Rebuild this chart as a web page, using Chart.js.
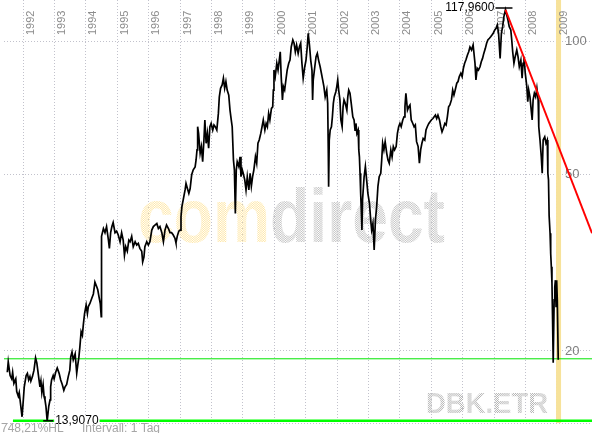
<!DOCTYPE html>
<html>
<head>
<meta charset="utf-8">
<script src="https://cdn.jsdelivr.net/npm/chart.js@4.4.0/dist/chart.umd.min.js"></script>
<style>
html, body { margin: 0; padding: 0; background: #fff; }
#wrap { width: 592px; height: 433px; position: relative; }
</style>
</head>
<body>
<div id="wrap"><canvas id="chart" width="592" height="433"></canvas></div>
<script>
// DBK.ETR daily close (decimal year, price in EUR)
var years = [
  1991.50, 1991.53, 1991.59, 1991.64, 1991.67, 1991.71, 1991.77, 1991.80, 1991.85, 1991.88, 1991.93, 1991.97,
  1992.01, 1992.04, 1992.10, 1992.14, 1992.18, 1992.22, 1992.25, 1992.30, 1992.35, 1992.40, 1992.44, 1992.47,
  1992.51, 1992.54, 1992.57, 1992.60, 1992.64, 1992.67, 1992.70, 1992.73, 1992.77, 1992.82, 1992.86, 1992.88,
  1992.91, 1992.96, 1992.99, 1993.04, 1993.09, 1993.15, 1993.20, 1993.25, 1993.30, 1993.34, 1993.39, 1993.44,
  1993.49, 1993.52, 1993.56, 1993.60, 1993.66, 1993.71, 1993.74, 1993.78, 1993.81, 1993.85, 1993.89, 1993.92,
  1993.96, 1994.01, 1994.05, 1994.08, 1994.13, 1994.19, 1994.24, 1994.29, 1994.35, 1994.38, 1994.42, 1994.46,
  1994.49, 1994.50, 1994.56, 1994.61, 1994.66, 1994.72, 1994.75, 1994.79, 1994.83, 1994.87, 1994.93, 1994.98,
  1995.03, 1995.09, 1995.14, 1995.19, 1995.23, 1995.27, 1995.32, 1995.37, 1995.41, 1995.46, 1995.51, 1995.57,
  1995.62, 1995.67, 1995.72, 1995.78, 1995.81, 1995.85, 1995.88, 1995.94, 1995.99, 1996.04, 1996.10, 1996.15,
  1996.20, 1996.26, 1996.31, 1996.36, 1996.42, 1996.47, 1996.52, 1996.57, 1996.63, 1996.68, 1996.73, 1996.78,
  1996.84, 1996.87, 1996.91, 1996.96, 1997.00, 1997.03, 1997.06, 1997.10, 1997.16, 1997.19, 1997.23, 1997.28,
  1997.32, 1997.37, 1997.42, 1997.48, 1997.51, 1997.54, 1997.56, 1997.59, 1997.64, 1997.68, 1997.72, 1997.76,
  1997.79, 1997.83, 1997.87, 1997.91, 1997.95, 1997.99, 1998.04, 1998.08, 1998.12, 1998.17, 1998.22, 1998.25,
  1998.29, 1998.34, 1998.38, 1998.42, 1998.46, 1998.50, 1998.55, 1998.59, 1998.63, 1998.66, 1998.70, 1998.73,
  1998.76, 1998.79, 1998.82, 1998.87, 1998.91, 1998.94, 1998.98, 1999.01, 1999.06, 1999.10, 1999.14, 1999.19,
  1999.23, 1999.27, 1999.31, 1999.35, 1999.40, 1999.44, 1999.48, 1999.52, 1999.57, 1999.61, 1999.65, 1999.70,
  1999.74, 1999.78, 1999.82, 1999.86, 1999.91, 1999.95, 1999.97, 1999.99, 2000.03, 2000.08, 2000.12, 2000.16,
  2000.19, 2000.22, 2000.26, 2000.29, 2000.33, 2000.37, 2000.41, 2000.46, 2000.50, 2000.54, 2000.59, 2000.63,
  2000.67, 2000.71, 2000.76, 2000.80, 2000.84, 2000.88, 2000.92, 2000.97, 2001.01, 2001.05, 2001.08, 2001.12,
  2001.16, 2001.20, 2001.22, 2001.24, 2001.29, 2001.33, 2001.37, 2001.41, 2001.46, 2001.50, 2001.54, 2001.58,
  2001.62, 2001.67, 2001.70, 2001.72, 2001.73, 2001.75, 2001.78, 2001.82, 2001.85, 2001.88, 2001.91, 2001.96,
  2001.99, 2002.02, 2002.05, 2002.09, 2002.12, 2002.16, 2002.19, 2002.22, 2002.26, 2002.31, 2002.34, 2002.37,
  2002.41, 2002.45, 2002.50, 2002.54, 2002.57, 2002.60, 2002.63, 2002.67, 2002.69, 2002.71, 2002.73, 2002.75,
  2002.77, 2002.79, 2002.81, 2002.86, 2002.90, 2002.94, 2002.98, 2003.03, 2003.07, 2003.10, 2003.14, 2003.18,
  2003.22, 2003.26, 2003.30, 2003.34, 2003.39, 2003.42, 2003.45, 2003.49, 2003.53, 2003.58, 2003.62, 2003.66,
  2003.71, 2003.75, 2003.79, 2003.83, 2003.88, 2003.92, 2003.96, 2004.00, 2004.04, 2004.09, 2004.13, 2004.16,
  2004.19, 2004.24, 2004.28, 2004.32, 2004.36, 2004.41, 2004.45, 2004.49, 2004.53, 2004.58, 2004.62, 2004.66,
  2004.70, 2004.74, 2004.79, 2004.83, 2004.87, 2004.92, 2004.96, 2005.00, 2005.05, 2005.09, 2005.13, 2005.17,
  2005.21, 2005.26, 2005.30, 2005.34, 2005.38, 2005.43, 2005.47, 2005.51, 2005.55, 2005.59, 2005.64, 2005.68,
  2005.72, 2005.76, 2005.81, 2005.85, 2005.89, 2005.94, 2005.98, 2006.02, 2006.06, 2006.10, 2006.15, 2006.19,
  2006.23, 2006.28, 2006.33, 2006.39, 2006.42, 2006.46, 2006.50, 2006.55, 2006.59, 2006.63, 2006.67, 2006.72,
  2006.76, 2006.80, 2006.85, 2006.89, 2006.93, 2006.97, 2007.02, 2007.06, 2007.10, 2007.14, 2007.19, 2007.23,
  2007.27, 2007.31, 2007.36, 2007.40, 2007.44, 2007.48, 2007.53, 2007.56, 2007.59, 2007.63, 2007.67, 2007.72,
  2007.76, 2007.80, 2007.85, 2007.89, 2007.92, 2007.95, 2007.99, 2008.04, 2008.07, 2008.10, 2008.14, 2008.17,
  2008.21, 2008.24, 2008.28, 2008.32, 2008.36, 2008.40, 2008.42, 2008.46, 2008.50, 2008.53, 2008.56, 2008.61,
  2008.65, 2008.69, 2008.71, 2008.73, 2008.75, 2008.78, 2008.80, 2008.82, 2008.84, 2008.86, 2008.88, 2008.91,
  2008.93, 2008.95, 2008.97, 2008.99, 2009.01, 2009.04
];
var prices = [
  17.9, 18.9, 17.6, 17.3, 17.9, 16.9, 17.3, 16.2, 15.8, 16.1, 15.0, 14.2,
  15.5, 16.6, 17.6, 17.8, 17.2, 17.5, 17.1, 17.5, 18.1, 19.3, 18.8, 18.1,
  17.2, 16.6, 17.1, 16.1, 16.8, 15.8, 15.5, 15.0, 13.907, 15.0, 15.5, 16.6,
  17.2, 17.6, 17.3, 17.9, 18.3, 17.8, 17.2, 16.8, 16.3, 16.6, 16.8, 17.5,
  18.1, 19.4, 19.9, 19.1, 19.7, 17.8, 18.5, 19.4, 20.4, 22.1, 21.7, 22.9,
  24.3, 25.4, 24.3, 25.2, 25.6, 26.3, 26.9, 28.6, 27.9, 27.5, 26.5, 25.6,
  23.9, 36.3, 37.8, 37.0, 38.2, 35.6, 34.1, 37.0, 38.2, 39.0, 37.0, 37.3,
  36.6, 35.3, 37.0, 35.6, 32.9, 34.4, 33.6, 35.6, 35.3, 36.3, 34.4, 35.3,
  34.7, 35.0, 34.1, 33.6, 31.8, 32.6, 34.4, 35.3, 34.7, 35.3, 37.5, 38.2,
  38.5, 38.8, 37.8, 38.2, 37.0, 35.3, 37.5, 38.5, 37.8, 37.0, 37.0, 36.6,
  35.9, 35.1, 36.3, 37.3, 37.5, 40.2, 42.4, 43.9, 46.2, 47.8, 46.7, 45.4,
  46.5, 50.0, 51.3, 52.1, 54.0, 56.9, 64.2, 62.0, 55.9, 57.9, 53.5, 59.9,
  66.5, 58.9, 62.0, 57.4, 64.2, 65.3, 63.1, 64.8, 64.2, 63.1, 68.8, 75.0,
  78.4, 79.8, 82.6, 78.4, 81.2, 77.7, 75.7, 70.0, 66.5, 64.2, 54.0, 51.3,
  40.9, 51.3, 53.5, 52.2, 54.9, 49.5, 51.3, 50.4, 48.7, 46.2, 49.5, 46.2,
  50.4, 47.1, 49.5, 51.3, 54.9, 53.1, 58.9, 59.9, 62.0, 64.2, 66.5, 63.1,
  65.3, 64.2, 68.8, 66.5, 70.6, 71.2, 77.7, 86.2, 83.3, 89.3, 86.2, 90.8,
  94.8, 83.3, 73.8, 79.1, 77.7, 81.9, 86.2, 89.3, 90.8, 97.3, 100.8, 99.1,
  94.8, 98.2, 94.0, 97.3, 99.1, 89.3, 82.6, 87.7, 90.8, 97.3, 104.4, 98.2,
  90.8, 86.2, 73.8, 81.9, 87.7, 92.4, 94.0, 90.8, 87.7, 84.8, 81.9, 79.1,
  75.0, 77.7, 72.5, 55.9, 47.0, 59.9, 63.1, 64.2, 67.6, 72.5, 75.0, 77.0,
  79.1, 81.9, 77.7, 73.8, 66.5, 64.2, 71.2, 73.8, 72.5, 70.0, 75.0, 77.7,
  76.4, 72.5, 67.6, 66.5, 63.1, 65.3, 62.0, 63.1, 56.9, 54.9, 50.4, 45.4,
  41.6, 37.5, 43.9, 49.5, 52.2, 48.7, 45.4, 43.1, 39.5, 37.5, 38.8, 33.8,
  39.5, 42.4, 47.1, 49.5, 50.4, 54.0, 58.9, 56.9, 59.4, 55.9, 54.0, 53.1,
  56.9, 54.9, 57.9, 56.9, 57.9, 62.0, 64.2, 65.3, 64.2, 66.5, 67.6, 71.2,
  76.4, 70.0, 71.2, 71.9, 66.5, 65.3, 64.2, 64.8, 59.4, 57.9, 53.1, 56.9,
  58.9, 60.4, 59.9, 63.1, 64.2, 65.3, 65.9, 66.5, 67.0, 67.6, 68.2, 67.0,
  68.2, 66.5, 64.2, 62.5, 63.6, 65.3, 64.8, 67.6, 71.2, 71.9, 73.8, 77.7,
  75.7, 77.7, 80.5, 81.2, 83.3, 84.8, 83.3, 87.0, 89.3, 90.8, 93.2, 94.8,
  97.2, 95.7, 98.2, 89.3, 81.9, 87.0, 86.2, 87.7, 90.0, 91.6, 94.0, 96.5,
  99.1, 100.8, 101.7, 102.5, 103.4, 104.4, 106.2, 107.1, 109.0, 104.4, 91.6, 104.4,
  108.0, 113.8, 117.96, 114.8, 111.8, 108.0, 106.2, 100.8, 94.8, 89.3, 92.4, 95.7,
  92.4, 87.7, 90.8, 82.6, 89.3, 92.4, 84.8, 79.1, 73.1, 77.7, 75.0, 71.2,
  66.5, 73.8, 76.4, 75.0, 78.4, 73.8, 64.2, 59.9, 54.9, 50.4, 59.9, 60.9,
  58.9, 59.9, 50.4, 48.7, 40.4, 36.9, 33.2, 31.0, 28.5, 23.5, 18.8, 26.1,
  27.9, 28.9, 25.2, 28.9, 26.1, 19.1
];
var yearTicks = [1992, 1993, 1994, 1995, 1996, 1997, 1998, 1999, 2000,
                 2001, 2002, 2003, 2004, 2005, 2006, 2007, 2008, 2009];
var priceTicks = [20, 50, 100];
var trendYears = [2007.36, 2010.115];
var trendPrices = [117.96, 36.9];
var highYear = 2007.36, highPrice = 117.96, highLabel = '117,9600';
var lowYear = 1992.77, lowPrice = 13.907, lowLabel = '13,9070';
var lowLineStart = 1991.68;
var lastPrice = 19.2;
var bandYears = [2008.97, 2009.13];
var xMin = 1991.395, xMax = 2010.115;
var yMin = 13.75, yMax = 124.1;

function dotPattern(ctx, color) {
    var c = document.createElement('canvas');
    c.width = 2; c.height = 2;
    var g = c.getContext('2d');
    g.fillStyle = color;
    g.fillRect(0, 0, 1, 1);
    g.fillRect(1, 1, 1, 1);
    return ctx.createPattern(c, 'repeat');
}

function fitText(ctx, text, x, y, width) {
    var w = ctx.measureText(text).width;
    ctx.save();
    ctx.translate(x, y);
    ctx.scale(width / w, 1);
    ctx.fillText(text, 0, 0);
    ctx.restore();
}

var decorations = {
    id: 'decorations',
    beforeDatasetsDraw: function(chart) {
        var ctx = chart.ctx, xs = chart.scales.x, ys = chart.scales.y, area = chart.chartArea;
        ctx.save();
        // 2009 marker band
        var b0 = xs.getPixelForValue(bandYears[0]), b1 = xs.getPixelForValue(bandYears[1]);
        ctx.fillStyle = '#f7e29a';
        ctx.fillRect(b0, area.top, b1 - b0, area.bottom - area.top);

        // watermarks
        ctx.textBaseline = 'alphabetic';
        ctx.textAlign = 'left';
        ctx.font = 'bold 76px "Liberation Sans", Arial, sans-serif';
        var wCom = ctx.measureText('com').width, wAll = ctx.measureText('comdirect').width;
        var k = 307 / wAll;
        ctx.save();
        ctx.translate(138, 242);
        ctx.scale(k, 1);
        ctx.fillStyle = dotPattern(ctx, '#ffe7a6');
        ctx.fillText('com', 0, 0);
        ctx.fillStyle = dotPattern(ctx, '#c4c4c4');
        ctx.fillText('direct', wCom, 0);
        ctx.restore();
        ctx.font = 'bold 29px "Liberation Sans", Arial, sans-serif';
        ctx.fillStyle = dotPattern(ctx, '#b4b4b4');
        fitText(ctx, 'DBK.ETR', 426, 413, 122);

        // year labels
        ctx.fillStyle = '#8c8c8c';
        ctx.font = '11px "Liberation Sans", Arial, sans-serif';
        yearTicks.forEach(function(yr) {
            var px = xs.getPixelForValue(yr);
            ctx.save();
            ctx.translate(px + 10.5, 35);
            ctx.rotate(-Math.PI / 2);
            ctx.fillText(String(yr), 0, 0);
            ctx.restore();
        });

        // price labels
        ctx.font = '13px "Liberation Sans", Arial, sans-serif';
        ctx.textBaseline = 'middle';
        ctx.fillStyle = '#808080';
        priceTicks.forEach(function(p) {
            ctx.fillText(String(p), 565, ys.getPixelForValue(p));
        });
        ctx.restore();
    },
    afterDatasetsDraw: function(chart) {
        var ctx = chart.ctx, xs = chart.scales.x, ys = chart.scales.y;
        ctx.save();
        ctx.strokeStyle = '#000';
        ctx.lineWidth = 1.5;
        ctx.fillStyle = '#000';
        ctx.font = '12px "Liberation Sans", Arial, sans-serif';
        ctx.textBaseline = 'middle';

        // high marker
        var hx = xs.getPixelForValue(highYear), hy = Math.round(ys.getPixelForValue(highPrice)) - 2;
        ctx.beginPath();
        ctx.moveTo(hx - 10, hy); ctx.lineTo(hx + 7, hy);
        ctx.stroke();
        ctx.textAlign = 'right';
        ctx.fillText(highLabel, hx - 11, hy);

        // low marker
        var lx = xs.getPixelForValue(lowYear), ly = ys.getPixelForValue(lowPrice);
        ctx.textAlign = 'left';
        var tw = ctx.measureText(lowLabel).width;
        ctx.fillStyle = '#fff';
        ctx.fillRect(lx + 7, ly - 5, tw + 2, 10);
        ctx.beginPath();
        ctx.moveTo(lx - 4, ly); ctx.lineTo(lx + 6, ly);
        ctx.stroke();
        ctx.fillStyle = '#000';
        ctx.fillText(lowLabel, lx + 8, ly);

        // footer
        ctx.fillStyle = '#a6a6a6';
        ctx.textBaseline = 'alphabetic';
        ctx.font = '12px "Liberation Sans", Arial, sans-serif';
        ctx.fillText('748,21%HL', 1, 432);
        ctx.fillText('Intervall: 1 Tag', 82, 432);
        ctx.restore();
    }
};

var gridColor = '#c2c2cc';

new Chart(document.getElementById('chart'), {
    type: 'line',
    data: {
        datasets: [{
            data: trendYears.map(function(y, i) { return {x: y, y: trendPrices[i]}; }),
            borderColor: '#ff0000',
            borderWidth: 2,
            pointRadius: 0
        }, {
            data: years.map(function(y, i) { return {x: y, y: prices[i]}; }),
            borderColor: '#000000',
            borderWidth: 1.7,
            pointRadius: 0,
            tension: 0
        }, {
            data: [{x: lowLineStart, y: lowPrice}, {x: xMax, y: lowPrice}],
            borderColor: '#00ff00',
            borderWidth: 2.5,
            pointRadius: 0
        }, {
            data: [{x: xMin, y: lastPrice}, {x: xMax, y: lastPrice}],
            borderColor: '#00e600',
            borderWidth: 1,
            pointRadius: 0
        }]
    },
    options: {
        responsive: false,
        animation: false,
        events: [],
        layout: { padding: { left: 4, right: 0, top: 0, bottom: 10 } },
        plugins: { legend: { display: false }, tooltip: { enabled: false } },
        scales: {
            x: {
                type: 'linear',
                min: xMin,
                max: xMax,
                position: 'bottom',
                ticks: { display: false },
                grid: { color: gridColor, lineWidth: 1, drawTicks: false },
                border: { display: false, dash: [1, 2] },
                afterBuildTicks: function(scale) {
                    scale.ticks = yearTicks.map(function(v) { return {value: v}; });
                }
            },
            y: {
                type: 'logarithmic',
                min: yMin,
                max: yMax,
                position: 'right',
                ticks: { display: false },
                grid: { color: gridColor, lineWidth: 1, drawTicks: false },
                border: { display: false, dash: [1, 2] },
                afterBuildTicks: function(scale) {
                    scale.ticks = [scale.min].concat(priceTicks).map(function(v) { return {value: v}; });
                }
            }
        }
    },
    plugins: [decorations]
});
</script>
</body>
</html>
